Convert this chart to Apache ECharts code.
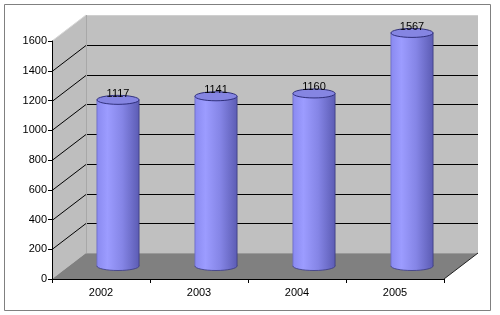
<!DOCTYPE html>
<html>
<head>
<meta charset="utf-8">
<script src="https://cdn.jsdelivr.net/npm/echarts@6/dist/echarts.min.js"></script>
<style>html,body{margin:0;padding:0;background:#fff;}#c{width:500px;height:315px;}</style>
</head>
<body>
<div id="c"></div>
<script>
var categories = ['2002', '2003', '2004', '2005'];
var values = [1117, 1141, 1160, 1567];
var yMin = 0, yMax = 1600, yStep = 200;

var DX = 34, DY = -26; // depth offset of the back wall
var FONT = 'Liberation Sans, Arial, sans-serif';

var chart = echarts.init(document.getElementById('c'), null, {renderer: 'canvas'});

function boxRender(params, api) {
  var cs = params.coordSys;
  var y0 = api.coord([0, yMin])[1];
  var yT = api.coord([0, yMax])[1];
  var xl = cs.x, xr = cs.x + cs.width;
  var ch = [];
  ch.push({type: 'rect', shape: {x: xl + DX, y: yT + DY, width: cs.width, height: y0 - yT},
    style: {fill: '#c0c0c0', stroke: null}});
  ch.push({type: 'polygon', shape: {points: [[xl, y0], [xl + DX, y0 + DY], [xl + DX, yT + DY], [xl, yT]]},
    style: {fill: '#bebebe', stroke: null}});
  ch.push({type: 'line', shape: {x1: xl, y1: yT, x2: xl + DX, y2: yT + DY}, style: {stroke: '#d8d8d8', lineWidth: 1}});
  ch.push({type: 'line', shape: {x1: xl + DX, y1: yT + DY + 0.5, x2: xr + DX, y2: yT + DY + 0.5}, style: {stroke: '#cfcfcf', lineWidth: 1}});
  for (var v = yMin + yStep; v < yMax; v += yStep) {
    var y = Math.round(api.coord([0, v])[1]) + 0.5;
    ch.push({type: 'line', shape: {x1: xl, y1: y, x2: xl + DX, y2: y + DY}, style: {stroke: '#000', lineWidth: 1}});
    ch.push({type: 'line', shape: {x1: xl + DX, y1: y + DY, x2: xr + DX, y2: y + DY}, style: {stroke: '#000', lineWidth: 1}});
  }
  ch.push({type: 'line', shape: {x1: xl + DX + 0.5, y1: yT + DY, x2: xl + DX + 0.5, y2: y0 + DY}, style: {stroke: '#a8a8a8', lineWidth: 1}});
  ch.push({type: 'polygon', shape: {points: [[xl, y0], [xl + DX, y0 + DY], [xr + DX, y0 + DY], [xr, y0]]},
    style: {fill: '#808080', stroke: null}});
  ch.push({type: 'line', shape: {x1: xl + DX, y1: y0 + DY + 0.5, x2: xr + DX, y2: y0 + DY + 0.5}, style: {stroke: '#999', lineWidth: 1}});
  ch.push({type: 'line', shape: {x1: xr, y1: y0, x2: xr + DX, y2: y0 + DY}, style: {stroke: '#222', lineWidth: 1}});
  return {type: 'group', children: ch};
}

function cylRender(params, api) {
  var idx = api.value(0), val = api.value(1);
  var top = api.coord([idx, val]);
  var base = api.coord([idx, 0]);
  var bw = api.size([1, 0])[0];
  var w = bw * 0.43;
  var cx = top[0] + DX / 2;
  var ty = top[1] + DY / 2;
  var by = base[1] + DY / 2;
  var rx = w / 2, ry = 4.5;
  var grad = new echarts.graphic.LinearGradient(0, 0, 1, 0, [
    {offset: 0, color: '#8a8af0'},
    {offset: 0.25, color: '#9c9cff'},
    {offset: 0.6, color: '#8585e6'},
    {offset: 1, color: '#5c5cb4'}
  ]);
  var ch = [];
  ch.push({type: 'ellipse', shape: {cx: cx, cy: by, rx: rx, ry: ry}, style: {fill: grad, stroke: '#3a3a80', lineWidth: 0.8}});
  ch.push({type: 'rect', shape: {x: cx - rx, y: ty, width: w, height: by - ty}, style: {fill: grad, stroke: null}});
  ch.push({type: 'line', shape: {x1: cx - rx, y1: ty, x2: cx - rx, y2: by}, style: {stroke: '#6a6ac0', lineWidth: 0.8}});
  ch.push({type: 'line', shape: {x1: cx + rx, y1: ty, x2: cx + rx, y2: by}, style: {stroke: '#3a3a80', lineWidth: 0.8}});
  ch.push({type: 'ellipse', shape: {cx: cx, cy: ty, rx: rx, ry: ry}, style: {fill: '#8585e2', stroke: '#262670', lineWidth: 0.9}});
  ch.push({type: 'text', style: {text: String(val), x: cx, y: ty - 6, align: 'center', verticalAlign: 'middle',
    fill: '#000', font: '11px ' + FONT}});
  return {type: 'group', children: ch};
}

var option = {
  backgroundColor: '#fff',
  animation: false,
  graphic: [{type: 'rect', shape: {x: 4.5, y: 4.5, width: 486, height: 306}, style: {fill: null, stroke: '#808080', lineWidth: 1}, z: 100}],
  grid: {left: 52, top: 41, right: 56, bottom: 36, containLabel: false},
  xAxis: {
    type: 'category', data: categories, boundaryGap: true,
    axisLine: {show: true, lineStyle: {color: '#000', width: 1}},
    axisTick: {show: true, length: 4, lineStyle: {color: '#000'}},
    axisLabel: {color: '#000', fontSize: 11, fontFamily: FONT, margin: 8},
    splitLine: {show: false}, z: 10
  },
  yAxis: {
    type: 'value', min: yMin, max: yMax, interval: yStep,
    axisLine: {show: true, lineStyle: {color: '#000', width: 1}},
    axisTick: {show: true, length: 4, lineStyle: {color: '#000'}},
    axisLabel: {color: '#000', fontSize: 11, fontFamily: FONT, margin: 5,
      formatter: function (v) { return String(v); }},
    splitLine: {show: false}, z: 10
  },
  series: [
    {type: 'custom', renderItem: boxRender, data: [[0, 0]], z: 1, silent: true},
    {type: 'custom', renderItem: cylRender, data: values.map(function (v, i) { return [i, v]; }), z: 5, silent: true}
  ]
};
chart.setOption(option);
</script>
</body>
</html>
